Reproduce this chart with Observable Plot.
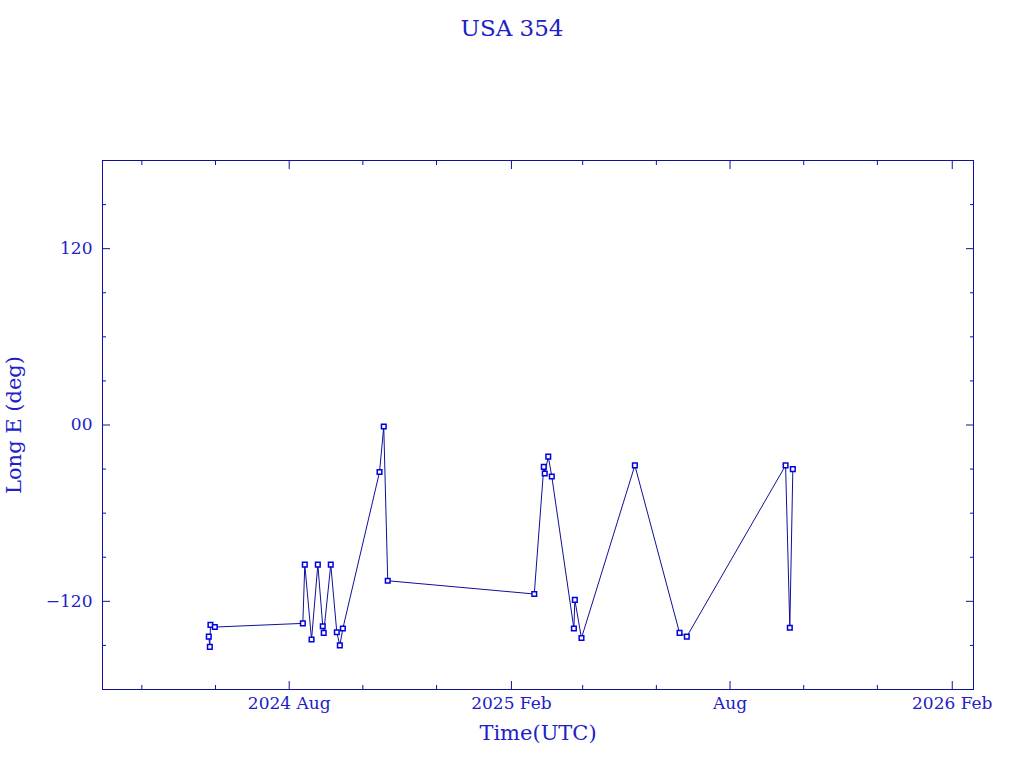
<!DOCTYPE html>
<html>
<head>
<meta charset="utf-8">
<script src="https://cdn.jsdelivr.net/npm/d3@7"></script>
<script src="https://cdn.jsdelivr.net/npm/@observablehq/plot@0.6"></script>
<style>
  html, body { margin: 0; padding: 0; background: #fff; }
  #wrap { position: relative; width: 1024px; height: 768px; }
  #wrap svg { position: absolute; left: 0; top: 0; }
  #title { position: absolute; top: 15px; left: 0; width: 1024px; text-align: center;
           font: 23px "DejaVu Serif", serif; color: #2020c8; }
</style>
</head>
<body>
<div id="wrap"><div id="title">USA 354</div></div>
<script>
// Observation times (UTC) and East longitude (deg)
const times = [
  "2024-05-26T10:00Z", "2024-05-27T07:00Z", "2024-05-27T19:00Z", "2024-05-31T10:00Z",
  "2024-08-12T07:00Z", "2024-08-13T22:00Z", "2024-08-19T12:00Z", "2024-08-24T17:00Z",
  "2024-08-28T19:00Z", "2024-08-29T14:00Z", "2024-09-04T10:00Z", "2024-09-09T10:00Z",
  "2024-09-11T22:00Z", "2024-09-14T10:00Z", "2024-10-14T19:00Z", "2024-10-18T07:00Z",
  "2024-10-21T14:00Z", "2025-02-19T22:00Z", "2025-02-27T19:00Z", "2025-02-28T14:00Z",
  "2025-03-03T12:00Z", "2025-03-06T10:00Z", "2025-03-24T17:00Z", "2025-03-25T12:00Z",
  "2025-03-31T00:00Z", "2025-05-14T05:00Z", "2025-06-20T05:00Z", "2025-06-26T05:00Z",
  "2025-09-16T00:00Z", "2025-09-19T12:00Z", "2025-09-22T00:00Z"
];
const longE = [
  -144, -151, -136, -137.5,
  -135, -95, -146, -95,
  -137, -141.5, -95, -141,
  -150, -138.5, -32, -1,
  -106, -115, -28.5, -33,
  -21.5, -35, -138.5, -119,
  -145, -27.5, -141.5, -144,
  -27.5, -138, -30
];

// Axis ticks and labels
const xMajorTicks = ["2024-08-01", "2025-02-01", "2025-08-01", "2026-02-01"];
const xMajorLabels = ["2024 Aug", "2025 Feb", "Aug", "2026 Feb"];
const xMinorTicks = ["2024-04-01", "2024-06-01", "2024-10-01", "2024-12-01",
                     "2025-04-01", "2025-06-01", "2025-10-01", "2025-12-01"];
const yMajorTicks = [-120, 0, 120];
const yMajorLabels = ["\u2212120", "00", "120"];
const yMinorTicks = [-150, -90, -60, -30, 30, 60, 90, 150];
const xDomain = ["2024-02-28T10:00Z", "2026-02-18T14:00Z"];
const yDomain = [-180, 180];

const data = times.map((t, i) => ({t: new Date(t), v: longE[i]}));
const xMaj = xMajorTicks.map(d => new Date(d + "T00:00Z"));
const xMin = xMinorTicks.map(d => new Date(d + "T00:00Z"));
const xLab = new Map(xMaj.map((d, i) => [+d, xMajorLabels[i]]));
const yLab = new Map(yMajorTicks.map((d, i) => [d, yMajorLabels[i]]));

const navy = "#10109a";
const textBlue = "#2020c8";
const none = () => "";

const chart = Plot.plot({
  width: 1024,
  height: 768,
  marginLeft: 102,
  marginRight: 51,
  marginTop: 160,
  marginBottom: 79,
  style: {fontFamily: "'DejaVu Serif', serif", fontSize: "17px", background: "white", overflow: "visible"},
  x: {type: "utc", domain: xDomain.map(d => new Date(d))},
  y: {domain: yDomain},
  marks: [
    Plot.frame({stroke: navy, strokeWidth: 1}),
    // bottom
    Plot.axisX({anchor: "bottom", ticks: xMaj, tickSize: -8, tickPadding: 15,
      tickFormat: d => xLab.get(+d), stroke: navy, fill: textBlue, fontSize: 17, label: null}),
    Plot.axisX({anchor: "bottom", ticks: xMin, tickSize: -4, tickFormat: none, stroke: navy, label: null}),
    Plot.axisX({anchor: "bottom", ticks: [], tickSize: 0, fill: textBlue, fontSize: 21,
      label: "Time(UTC)", labelAnchor: "center", labelArrow: "none", labelOffset: 50}),
    // top
    Plot.axisX({anchor: "top", ticks: xMaj, tickSize: -8, tickFormat: none, stroke: navy, label: null}),
    Plot.axisX({anchor: "top", ticks: xMin, tickSize: -4, tickFormat: none, stroke: navy, label: null}),
    // left
    Plot.axisY({anchor: "left", ticks: yMajorTicks, tickSize: -8, tickPadding: 18,
      tickFormat: d => yLab.get(d), stroke: navy, fill: textBlue, fontSize: 17, label: null}),
    Plot.axisY({anchor: "left", ticks: yMinorTicks, tickSize: -4, tickFormat: none, stroke: navy, label: null}),
    Plot.axisY({anchor: "left", ticks: [], tickSize: 0, fill: textBlue, fontSize: 21,
      label: "Long E (deg)", labelAnchor: "center", labelArrow: "none", labelOffset: 96}),
    // right
    Plot.axisY({anchor: "right", ticks: yMajorTicks, tickSize: -8, tickFormat: none, stroke: navy, label: null}),
    Plot.axisY({anchor: "right", ticks: yMinorTicks, tickSize: -4, tickFormat: none, stroke: navy, label: null}),
    Plot.line(data, {x: "t", y: "v", stroke: navy, strokeWidth: 1}),
    Plot.dot(data, {x: "t", y: "v", symbol: "square", r: 2.6, stroke: "#0000e0", strokeWidth: 1.5, fill: "white"})
  ]
});
document.getElementById("wrap").insertBefore(chart, document.getElementById("title"));
</script>
</body>
</html>
